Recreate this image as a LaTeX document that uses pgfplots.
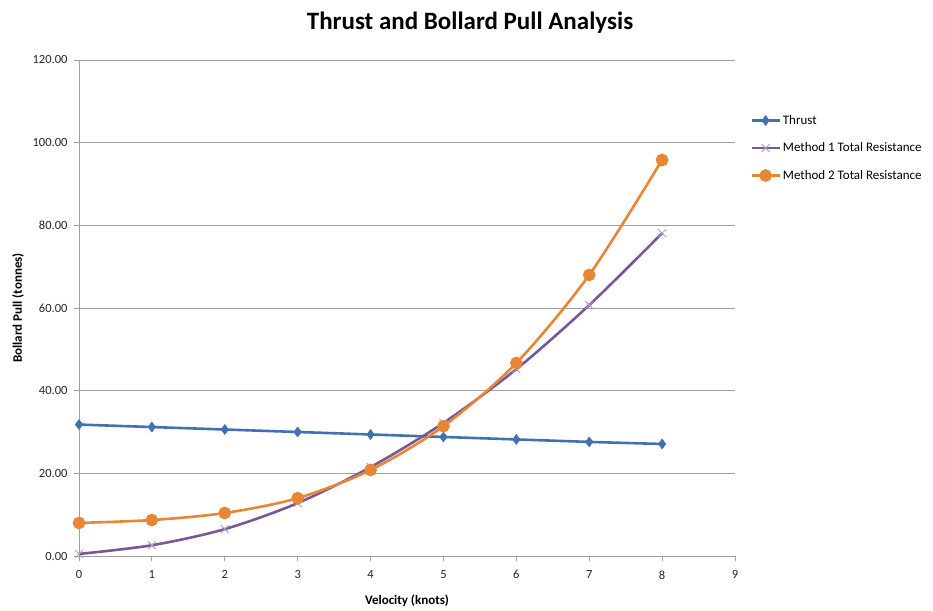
\documentclass[border=0pt]{standalone}
\usepackage{pgfplots}
\pgfplotsset{compat=1.18}
\usepackage{fontspec}
\setmainfont{Carlito}
\definecolor{cblue}{RGB}{65,113,176}
\definecolor{cpurple}{RGB}{118,90,152}
\definecolor{corange}{RGB}{232,134,54}
\definecolor{cgrid}{RGB}{160,160,160}
\begin{document}
\begin{tikzpicture}[x=1pt,y=1pt]
\useasboundingbox (0,0) rectangle (933,610);
\begin{axis}[
  at={(79pt,54pt)}, anchor=south west,
  scale only axis, width=656pt, height=496pt,
  xmin=0, xmax=9, ymin=0, ymax=120,
  xtick={0,...,9}, ytick={0,20,...,120},
  axis x line*=bottom, axis y line*=left,
  axis line style={cgrid, line width=0.8pt, -},
  tick style={cgrid, line width=0.8pt},
  tick align=outside, major tick length=5pt,
  ymajorgrids, grid style={cgrid, line width=0.8pt},
  /pgf/number format/assume math mode=true,
  yticklabel style={xshift=-3pt, /pgf/number format/.cd, fixed, fixed zerofill, precision=2},
  ticklabel style={font=\fontsize{12.5}{14}\selectfont, text=black!85},
  xticklabel style={yshift=-6pt},
  xlabel={\bfseries Velocity (knots)},
  ylabel={\bfseries Bollard Pull (tonnes)},
  label style={font=\fontsize{13}{15}\selectfont},
  xlabel style={at={(axis description cs:0.5,0)}, anchor=center, yshift=-45pt},
  ylabel style={at={(rel axis cs:-0.093,0.5)}, anchor=center, rotate=0},
  legend style={at={(rel axis cs:1.023,0.893)}, anchor=north west, draw=none,
    font=\fontsize{13}{15}\selectfont, row sep=13pt, fill=none, inner sep=0pt},
  legend cell align=left,
  legend image code/.code={%
    \draw[#1, mark repeat=2, mark phase=2] plot coordinates {(0pt,0pt) (14pt,0pt) (28pt,0pt)};},
  clip=false,
]
\addplot[cblue, line width=2.6pt, mark=diamond*, mark size=5pt, mark options={fill=cblue, line width=0.5pt}]
coordinates {(0,31.8) (1,31.2) (2,30.6) (3,30.0) (4,29.4) (5,28.8) (6,28.2) (7,27.6) (8,27.1)};
\addlegendentry{Thrust}
\addplot[cpurple, line width=2.6pt, smooth, mark=x, mark size=5.5pt, mark options={draw=cpurple!60, line width=0.9pt}]
coordinates {(0,0.5) (1,2.6) (2,6.5) (3,12.8) (4,21.5) (5,32.2) (6,45.2) (7,60.7) (8,78.1)};
\addlegendentry{Method 1 Total Resistance}
\addplot[corange, line width=2.6pt, smooth, mark=*, mark size=5pt, mark options={fill=corange, draw=corange}]
coordinates {(0,8.0) (1,8.7) (2,10.4) (3,14.0) (4,20.8) (5,31.4) (6,46.7) (7,68.0) (8,95.8)};
\addlegendentry{Method 2 Total Resistance}
\end{axis}
\node[font=\fontsize{25}{28}\selectfont\bfseries] at (470,587) {Thrust and Bollard Pull Analysis};
\end{tikzpicture}
\end{document}
